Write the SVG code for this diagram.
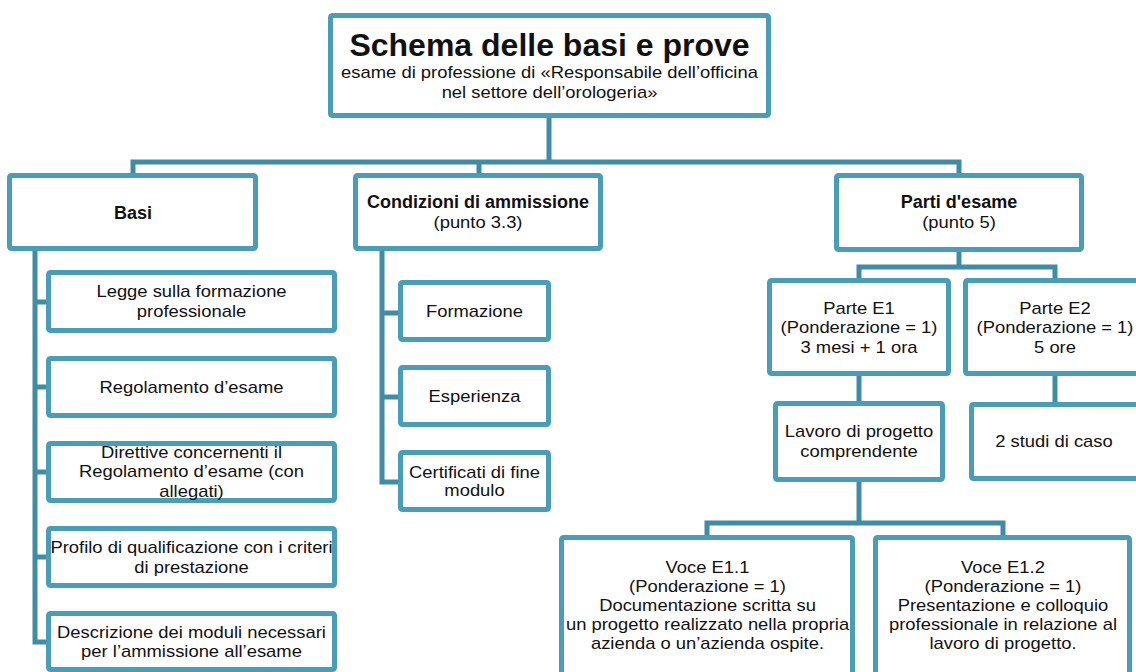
<svg xmlns="http://www.w3.org/2000/svg" width="1136" height="672" viewBox="0 0 1136 672">
<style>
.box{fill:#ffffff;stroke:#4a9db6;stroke-width:5;}
.con{fill:none;stroke:#3f8ca3;stroke-width:5;stroke-linejoin:miter;}
.t{font-family:"Liberation Sans",Arial,sans-serif;font-size:16px;fill:#111111;text-anchor:middle;}
.b{font-family:"Liberation Sans",Arial,sans-serif;font-size:18px;font-weight:bold;fill:#111111;text-anchor:middle;}
.title{font-family:"Liberation Sans",Arial,sans-serif;font-size:32px;font-weight:bold;fill:#111111;text-anchor:middle;}
</style>
<rect width="1136" height="672" fill="#ffffff"/>
<g id="connectors">
<path class="con" d="M549 118 V162"/>
<path class="con" d="M133 173 V162 H959 V173"/>
<path class="con" d="M479 162 V173"/>
<path class="con" d="M35 251 V642 H46"/>
<path class="con" d="M35 302 H46 M35 387 H46 M35 472 H46 M35 557 H46"/>
<path class="con" d="M382 251 V482 H398"/>
<path class="con" d="M382 313 H398 M382 397 H398"/>
<path class="con" d="M959 252 V267"/>
<path class="con" d="M859 278 V267 H1055 V278"/>
<path class="con" d="M859 376 V401"/>
<path class="con" d="M1055 376 V402"/>
<path class="con" d="M859 482 V523"/>
<path class="con" d="M707 535 V523 H1003 V535"/>
</g>
<g id="title">
<rect class="box" x="330.5" y="15.5" width="438" height="100" rx="2"/>
<text class="title" x="549.5" y="56">Schema delle basi e prove</text>
<text class="t" transform="translate(549.5 0) scale(1.15 1)"><tspan x="0" y="78">esame di professione di «Responsabile dell’officina</tspan><tspan x="0" y="98">nel settore dell’orologeria»</tspan></text>
</g>
<g id="basi">
<rect class="box" x="9.5" y="175.5" width="246" height="73" rx="2"/>
<text class="b" x="133" y="219">Basi</text>
</g>
<g id="condizioni">
<rect class="box" x="355.5" y="175.5" width="245" height="73" rx="2"/>
<text class="b" x="478" y="208">Condizioni di ammissione</text>
<text class="t" transform="translate(478 0) scale(1.15 1)"><tspan x="0" y="228">(punto 3.3)</tspan></text>
</g>
<g id="parti">
<rect class="box" x="836.5" y="175.5" width="245" height="74" rx="2"/>
<text class="b" x="959" y="208">Parti d'esame</text>
<text class="t" transform="translate(959 0) scale(1.15 1)"><tspan x="0" y="228">(punto 5)</tspan></text>
</g>
<g id="legge">
<rect class="box" x="48.5" y="272.5" width="286" height="58" rx="2"/>
<text class="t" transform="translate(191.5 0) scale(1.15 1)"><tspan x="0" y="297">Legge sulla formazione</tspan><tspan x="0" y="317">professionale</tspan></text>
</g>
<g id="regolamento">
<rect class="box" x="48.5" y="358.5" width="286" height="57" rx="2"/>
<text class="t" transform="translate(191.5 0) scale(1.15 1)"><tspan x="0" y="393">Regolamento d’esame</tspan></text>
</g>
<g id="direttive">
<rect class="box" x="48.5" y="443.5" width="286" height="57" rx="2"/>
<text class="t" transform="translate(191.5 0) scale(1.15 1)"><tspan x="0" y="458">Direttive concernenti il</tspan><tspan x="0" y="477">Regolamento d’esame (con</tspan><tspan x="0" y="497">allegati)</tspan></text>
</g>
<g id="profilo">
<rect class="box" x="48.5" y="528.5" width="286" height="57" rx="2"/>
<text class="t" transform="translate(191.5 0) scale(1.15 1)"><tspan x="0" y="553">Profilo di qualificazione con i criteri</tspan><tspan x="0" y="573">di prestazione</tspan></text>
</g>
<g id="descrizione">
<rect class="box" x="48.5" y="613.5" width="286" height="56" rx="2"/>
<text class="t" transform="translate(191.5 0) scale(1.15 1)"><tspan x="0" y="638">Descrizione dei moduli necessari</tspan><tspan x="0" y="657">per l’ammissione all’esame</tspan></text>
</g>
<g id="formazione">
<rect class="box" x="400.5" y="282.5" width="148" height="57" rx="2"/>
<text class="t" transform="translate(474.5 0) scale(1.15 1)"><tspan x="0" y="317">Formazione</tspan></text>
</g>
<g id="esperienza">
<rect class="box" x="400.5" y="367.5" width="148" height="57" rx="2"/>
<text class="t" transform="translate(474.5 0) scale(1.15 1)"><tspan x="0" y="402">Esperienza</tspan></text>
</g>
<g id="certificati">
<rect class="box" x="400.5" y="452.5" width="148" height="57" rx="2"/>
<text class="t" transform="translate(474.5 0) scale(1.15 1)"><tspan x="0" y="478">Certificati di fine</tspan><tspan x="0" y="496">modulo</tspan></text>
</g>
<g id="parteE1">
<rect class="box" x="769.5" y="280.5" width="179" height="93" rx="2"/>
<text class="t" transform="translate(859 0) scale(1.15 1)"><tspan x="0" y="314">Parte E1</tspan><tspan x="0" y="333">(Ponderazione = 1)</tspan><tspan x="0" y="353">3 mesi + 1 ora</tspan></text>
</g>
<g id="parteE2">
<rect class="box" x="965.5" y="280.5" width="182" height="93" rx="2"/>
<text class="t" transform="translate(1055 0) scale(1.15 1)"><tspan x="0" y="314">Parte E2</tspan><tspan x="0" y="333">(Ponderazione = 1)</tspan><tspan x="0" y="353">5 ore</tspan></text>
</g>
<g id="lavoro">
<rect class="box" x="775.5" y="403.5" width="167" height="76" rx="2"/>
<text class="t" transform="translate(859 0) scale(1.15 1)"><tspan x="0" y="437">Lavoro di progetto</tspan><tspan x="0" y="457">comprendente</tspan></text>
</g>
<g id="studi">
<rect class="box" x="971.5" y="404.5" width="182" height="74" rx="2"/>
<text class="t" transform="translate(1054 0) scale(1.15 1)"><tspan x="0" y="447">2 studi di caso</tspan></text>
</g>
<g id="voceE11">
<rect class="box" x="561.5" y="537.5" width="291" height="200" rx="2"/>
<text class="t" transform="translate(707.5 0) scale(1.15 1)"><tspan x="0" y="573">Voce E1.1</tspan><tspan x="0" y="592">(Ponderazione = 1)</tspan><tspan x="0" y="611">Documentazione scritta su</tspan><tspan x="0" y="630">un progetto realizzato nella propria</tspan><tspan x="0" y="649">azienda o un’azienda ospite.</tspan></text>
</g>
<g id="voceE12">
<rect class="box" x="875.5" y="537.5" width="254" height="200" rx="2"/>
<text class="t" transform="translate(1003 0) scale(1.15 1)"><tspan x="0" y="573">Voce E1.2</tspan><tspan x="0" y="592">(Ponderazione = 1)</tspan><tspan x="0" y="611">Presentazione e colloquio</tspan><tspan x="0" y="630">professionale in relazione al</tspan><tspan x="0" y="649">lavoro di progetto.</tspan></text>
</g>
</svg>
